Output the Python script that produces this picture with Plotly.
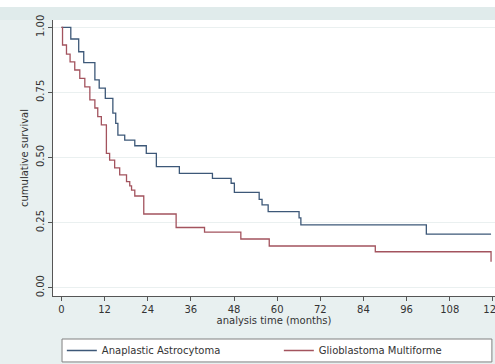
import plotly.graph_objects as go

# Kaplan-Meier step data (months, cumulative survival)
aa_time = [0, 2.6, 4.8, 6.2, 9.3, 10.5, 12.2, 14.3, 15.1, 15.7, 17.6, 20.4, 23.6, 26.4,
           32.8, 42.0, 47.2, 48.1, 55.0, 55.8, 57.5, 66.1, 66.6, 101.5, 119.5]
aa_surv = [1.0, 0.955, 0.906, 0.864, 0.798, 0.766, 0.727, 0.670, 0.631, 0.586, 0.567, 0.545, 0.516, 0.465,
           0.439, 0.420, 0.401, 0.366, 0.339, 0.318, 0.292, 0.268, 0.241, 0.206, 0.206]

gbm_time = [0, 0.3, 1.4, 2.4, 3.7, 5.1, 6.5, 7.9, 9.3, 10.1, 11.1, 12.5, 13.4, 14.8, 16.2, 18.1,
            19.0, 19.5, 20.4, 22.9, 31.9, 39.8, 49.9, 57.8, 87.3, 119.5, 119.5]
gbm_surv = [1.0, 0.932, 0.897, 0.867, 0.836, 0.804, 0.771, 0.721, 0.690, 0.657, 0.625, 0.516, 0.490, 0.460, 0.433, 0.407,
            0.391, 0.375, 0.352, 0.283, 0.231, 0.213, 0.187, 0.160, 0.138, 0.138, 0.100]

x_ticks = [0, 12, 24, 36, 48, 60, 72, 84, 96, 108, 120]
y_ticks = [0.0, 0.25, 0.5, 0.75, 1.0]
y_tick_text = ["0.00", "0.25", "0.50", "0.75", "1.00"]

BLUE = "#3d5878"
RED = "#a3535e"
BG = "#E8F0F0"
FONT = "DejaVu Sans"

fig = go.Figure()
fig.add_trace(go.Scatter(x=aa_time, y=aa_surv, mode="lines", line_shape="hv",
                         line=dict(color=BLUE, width=1.3), name="Anaplastic Astrocytoma"))
fig.add_trace(go.Scatter(x=gbm_time, y=gbm_surv, mode="lines", line_shape="hv",
                         line=dict(color=RED, width=1.3), name="Glioblastoma Multiforme"))

fig.update_layout(
    width=495, height=364,
    margin=dict(l=53, r=0, t=20, b=68, autoexpand=False),
    paper_bgcolor=BG, plot_bgcolor="white",
    font=dict(family=FONT, size=10, color="#333333"),
    showlegend=True,
    legend=dict(orientation="h", x=0.02, xanchor="left", y=-0.1975, yanchor="middle",
                bgcolor="rgba(0,0,0,0)", font=dict(size=10, color="#333333"),
                entrywidth=172, entrywidthmode="pixels", tracegroupgap=0),
    shapes=[
        dict(type="rect", xref="paper", yref="paper", x0=-0.13, x1=1.01, y0=1.047, y1=1.08,
             fillcolor="white", line=dict(width=0), layer="below"),
        dict(type="rect", xref="paper", yref="paper", x0=-0.13, x1=1.01, y0=1.0, y1=1.047,
             fillcolor="#E0EBEB", line=dict(width=0), layer="below"),
        dict(type="rect", xref="paper", yref="paper", x0=0.0204, x1=0.993, y0=-0.239, y1=-0.1558,
             fillcolor="white", line=dict(color="#808080", width=1), layer="below"),
    ],
)
fig.update_xaxes(range=[-2.35, 120.6], tickvals=x_ticks, ticks="outside", ticklen=4,
                 tickcolor="#555555", showline=True, linecolor="#555555", linewidth=1,
                 showgrid=False, zeroline=False, automargin=False, ticklabeloverflow="allow",
                 title=dict(text="analysis time (months)", standoff=1, font=dict(size=10)))
fig.update_yaxes(range=[-0.032, 1.028], tickvals=y_ticks, ticktext=y_tick_text, tickangle=-90,
                 ticks="outside", ticklen=4, tickcolor="#555555", showline=True,
                 linecolor="#555555", linewidth=1, showgrid=True, gridcolor="#EAF0F0",
                 zeroline=False, automargin=False, ticklabeloverflow="allow",
                 title=dict(text="cumulative survival", standoff=4, font=dict(size=10)))

fig.write_html("out.html", config={"displayModeBar": False},
               post_script="document.body.style.margin='0';document.body.style.overflow='hidden';")
